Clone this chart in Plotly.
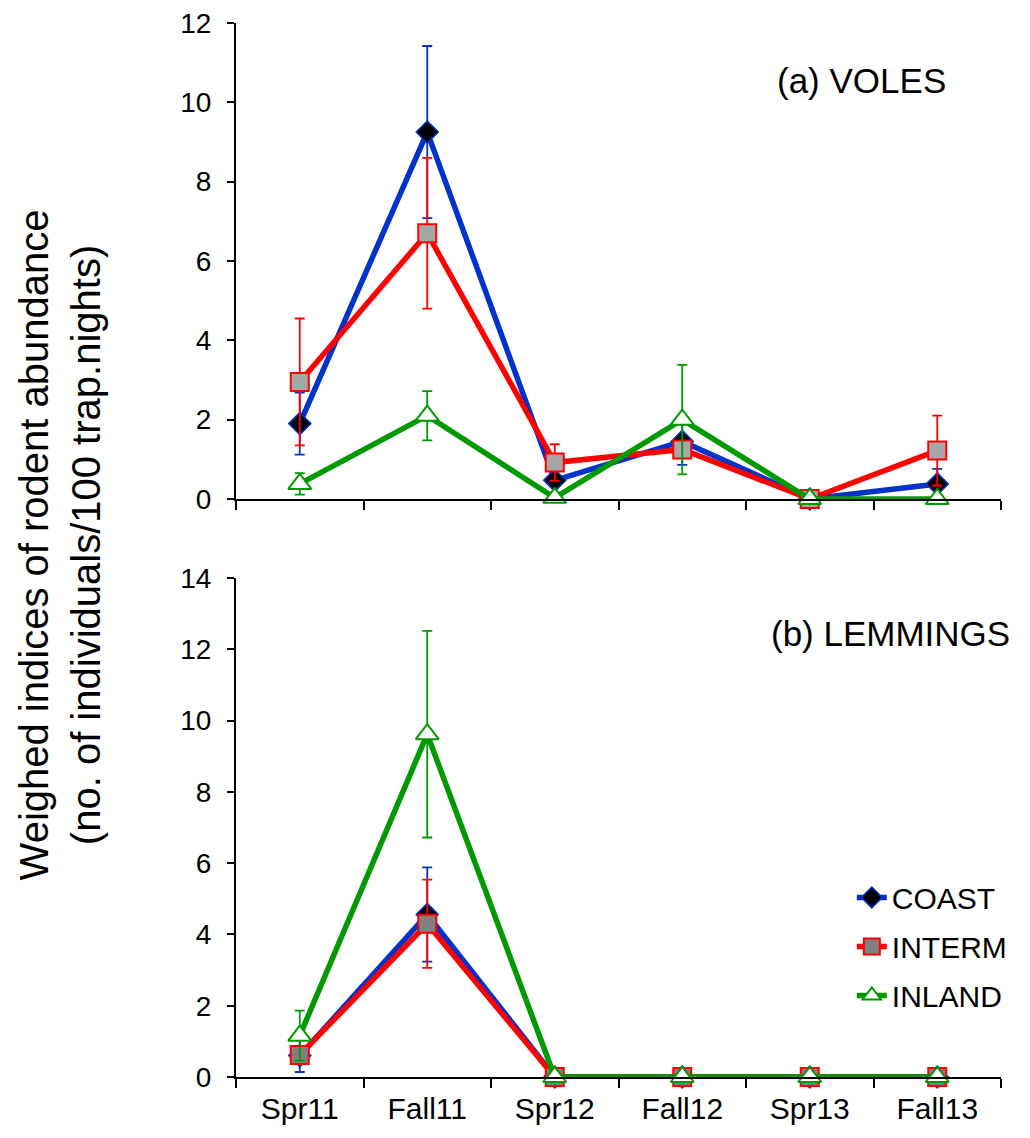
import plotly.graph_objects as go

seasons = ["Spr11", "Fall11", "Spr12", "Fall12", "Spr13", "Fall13"]
zones = ["COAST", "INTERM", "INLAND"]

# (a) VOLES
voles_coast = [1.9, 9.25, 0.47, 1.45, 0.0, 0.38]
voles_coast_err = [0.78, 2.17, 0.0, 0.59, 0.0, 0.38]
voles_interm = [2.95, 6.7, 0.92, 1.25, 0.0, 1.22]
voles_interm_err = [1.6, 1.9, 0.46, 0.2, 0.0, 0.88]
voles_inland = [0.38, 2.1, 0.03, 2.0, 0.0, 0.0]
voles_inland_err = [0.27, 0.62, 0.0, 1.38, 0.0, 0.0]

# (b) LEMMINGS
lem_coast = [0.6, 4.56, 0.0, 0.0, 0.0, 0.0]
lem_coast_err = [0.46, 1.32, 0.0, 0.0, 0.0, 0.0]
lem_interm = [0.62, 4.3, 0.0, 0.0, 0.0, 0.0]
lem_interm_err = [0.2, 1.24, 0.0, 0.0, 0.0, 0.0]
lem_inland = [1.16, 9.62, 0.0, 0.0, 0.0, 0.0]
lem_inland_err = [0.7, 2.9, 0.0, 0.0, 0.0, 0.0]

BLUE = "#0033CC"
RED = "#FF0000"
GREEN = "#009900"
FONT = "Liberation Sans, Arial, sans-serif"

styles = {
    "COAST": dict(color=BLUE, symbol="diamond", fill="black", size=17, lw=1.5),
    "INTERM": dict(color=RED, symbol="square", fill="#A6A6A6", size=18, lw=2),
    "INLAND": dict(color=GREEN, symbol="triangle-up", fill="white", size=20, lw=2),
}

fig = go.Figure()

def add(name, y, err, xa, ya, showlegend, fill=None):
    s = styles[name]
    fig.add_trace(go.Scatter(
        x=seasons, y=y, name=name, mode="lines+markers",
        xaxis=xa, yaxis=ya, showlegend=showlegend, legendgroup=name,
        line=dict(color=s["color"], width=5.5),
        marker=dict(symbol=s["symbol"], size=s["size"], color=fill or s["fill"],
                    line=dict(color=s["color"], width=s["lw"])),
        error_y=dict(type="data", array=err, visible=True, color=s["color"],
                     thickness=1.8, width=5),
        cliponaxis=False,
    ))

add("COAST", voles_coast, voles_coast_err, "x", "y", False)
add("INTERM", voles_interm, voles_interm_err, "x", "y", False)
add("INLAND", voles_inland, voles_inland_err, "x", "y", False)
add("COAST", lem_coast, lem_coast_err, "x2", "y2", True)
add("INTERM", lem_interm, lem_interm_err, "x2", "y2", True, fill="#808080")
add("INLAND", lem_inland, lem_inland_err, "x2", "y2", True)

axis_common = dict(showline=True, linecolor="black", linewidth=2, ticks="outside",
                   tickcolor="black", tickwidth=2, showgrid=False, zeroline=False,
                   automargin=False, ticklabeloverflow="allow")

xfont = dict(family=FONT, size=30, color="black")
yfont = dict(family=FONT, size=28, color="black")

fig.update_layout(
    width=1022, height=1130,
    margin=dict(l=228, r=29, t=15, b=61),
    paper_bgcolor="white", plot_bgcolor="white",
    font=dict(family=FONT, color="black"),
    xaxis=dict(domain=[0, 1], anchor="y", type="category", range=[-0.5, 5.5],
               tickson="boundaries", ticklen=9, showticklabels=False,
               tickfont=xfont, **axis_common),
    yaxis=dict(domain=[0.5484, 1], anchor="x", range=[0, 12], tickvals=[0, 2, 4, 6, 8, 10, 12],
               ticklen=7, ticklabelstandoff=10, tickfont=yfont, **axis_common),
    xaxis2=dict(domain=[0, 1], anchor="y2", type="category", range=[-0.5, 5.5],
                tickson="boundaries", ticklen=9, showticklabels=True,
                ticklabelstandoff=4, tickfont=xfont, **axis_common),
    yaxis2=dict(domain=[0, 0.4734], anchor="x2", range=[0, 14],
                tickvals=[0, 2, 4, 6, 8, 10, 12, 14], ticklen=7, ticklabelstandoff=10,
                tickfont=yfont, **axis_common),
    legend=dict(x=0.805, y=0.195, xanchor="left", yanchor="top",
                font=dict(family=FONT, size=30, color="black"),
                traceorder="grouped", tracegroupgap=7, itemsizing="trace",
                bgcolor="rgba(0,0,0,0)"),
    showlegend=True,
    annotations=[
        dict(text="(a) VOLES", xref="paper", yref="paper", x=0.817, y=0.945,
             xanchor="center", yanchor="middle",
             showarrow=False, font=dict(family=FONT, size=35, color="black")),
        dict(text="(b) LEMMINGS", xref="paper", yref="paper", x=0.855, y=0.421,
             xanchor="center", yanchor="middle",
             showarrow=False, font=dict(family=FONT, size=35, color="black")),
        dict(text="Weighed indices of rodent abundance<br>(no. of individuals/100 trap.nights)",
             xref="paper", yref="paper", x=-0.2305, y=0.505, textangle=-90,
             xanchor="center", yanchor="middle",
             showarrow=False, font=dict(family=FONT, size=40, color="black")),
    ],
)

fig.write_html("out.html")
